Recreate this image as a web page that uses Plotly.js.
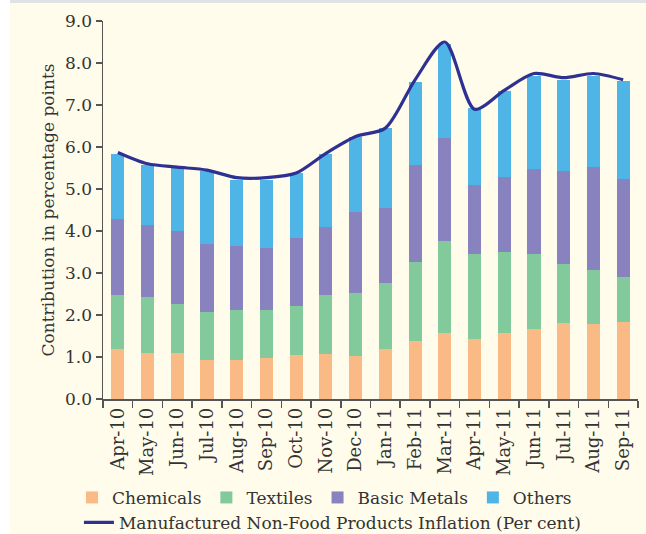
<!DOCTYPE html>
<html>
<head>
<meta charset="utf-8">
<script src="https://cdn.plot.ly/plotly-3.0.1.min.js"></script>
<style>html,body{margin:0;padding:0;background:#FFFCEB;}#chart{width:646px;height:534px;}</style>
</head>
<body>
<div id="chart"></div>
<script>
const months = ["Apr-10","May-10","Jun-10","Jul-10","Aug-10","Sep-10","Oct-10","Nov-10","Dec-10","Jan-11","Feb-11","Mar-11","Apr-11","May-11","Jun-11","Jul-11","Aug-11","Sep-11"];
const chemicals = [1.19,1.10,1.10,0.93,0.93,0.98,1.05,1.07,1.02,1.19,1.38,1.57,1.43,1.57,1.67,1.81,1.79,1.83];
const textiles  = [1.29,1.33,1.17,1.14,1.19,1.14,1.16,1.41,1.50,1.57,1.88,2.19,2.02,1.93,1.78,1.40,1.28,1.07];
const basicMetals = [1.81,1.71,1.73,1.62,1.52,1.48,1.63,1.62,1.93,1.79,2.31,2.45,1.65,1.79,2.03,2.22,2.45,2.34];
const others    = [1.54,1.42,1.50,1.75,1.57,1.61,1.55,1.73,1.80,1.90,1.98,2.24,1.83,2.04,2.21,2.17,2.17,2.33];
const inflation = [5.87,5.60,5.52,5.45,5.27,5.27,5.38,5.85,6.25,6.45,7.60,8.50,6.90,7.35,7.75,7.65,7.75,7.60];
const yTicks = [0,1,2,3,4,5,6,7,8,9];

const FONT = "DejaVu Serif, serif";
const TXT = "#333333";

function bar(name, y, color){
  return {type:"bar", name:name, x:months, y:y, marker:{color:color, line:{width:0}}, hoverinfo:"skip", legend:"legend"};
}
const data = [
  bar("Chemicals", chemicals, "#F9BA86"),
  bar("Textiles", textiles, "#82C99B"),
  bar("Basic Metals", basicMetals, "#8882BE"),
  bar("Others", others, "#4FB5E6"),
  {type:"scatter", mode:"lines", name:"Manufactured Non-Food Products Inflation (Per cent)", legend:"legend2",
   x:months, y:inflation, line:{color:"#2E3192", width:3.2, shape:"spline", smoothing:0.8}, hoverinfo:"skip"}
];

const layout = {
  width:646, height:534,
  margin:{l:103, r:8, t:21, b:135, autoexpand:false},
  paper_bgcolor:"#FFFCEB", plot_bgcolor:"#FFFCEB",
  barmode:"stack", bargap:0.56,
  font:{family:FONT, color:TXT, size:17},
  showlegend:true,
  legend:{orientation:"h", x:-0.058, y:-0.214, xanchor:"left", yanchor:"top",
          bgcolor:"rgba(0,0,0,0)", font:{family:FONT, size:17, color:TXT},
          itemwidth:30, traceorder:"normal"},
  legend2:{orientation:"h", x:-0.045, y:-0.280, xanchor:"left", yanchor:"top",
          bgcolor:"rgba(0,0,0,0)", font:{family:FONT, size:17, color:TXT},
          itemwidth:30},
  xaxis:{type:"category", showline:true, linecolor:"#555", linewidth:1.5,
         ticks:"outside", ticklen:7, tickcolor:"#555", tickwidth:1.5, tickson:"boundaries",
         tickangle:-90, tickfont:{family:FONT, size:18, color:TXT}, showgrid:false, zeroline:false},
  yaxis:{range:[0,9], tickvals:yTicks, tickformat:".1f", showline:true, linecolor:"#555", linewidth:1.5,
         ticks:"outside", ticklen:6, tickcolor:"#555", tickwidth:1.5, showgrid:false, zeroline:false,
         tickfont:{family:FONT, size:17, color:TXT},
         title:{text:"Contribution in percentage points", font:{family:FONT, size:17, color:TXT}, standoff:6}},
  shapes:[
    {type:"rect", xref:"paper", yref:"paper", x0:-0.2, x1:1.1, y0:(378+21)/378, y1:(378+21-3)/378,
     fillcolor:"#DEE3E6", line:{width:0}, layer:"below"},
    {type:"rect", xref:"paper", yref:"paper", x0:-103/535, x1:-93/535, y0:-0.5, y1:1.2,
     fillcolor:"#FFFFFF", line:{width:0}, layer:"below"}
  ]
};
Plotly.newPlot("chart", data, layout, {displayModeBar:false, staticPlot:true});
</script>
</body>
</html>
